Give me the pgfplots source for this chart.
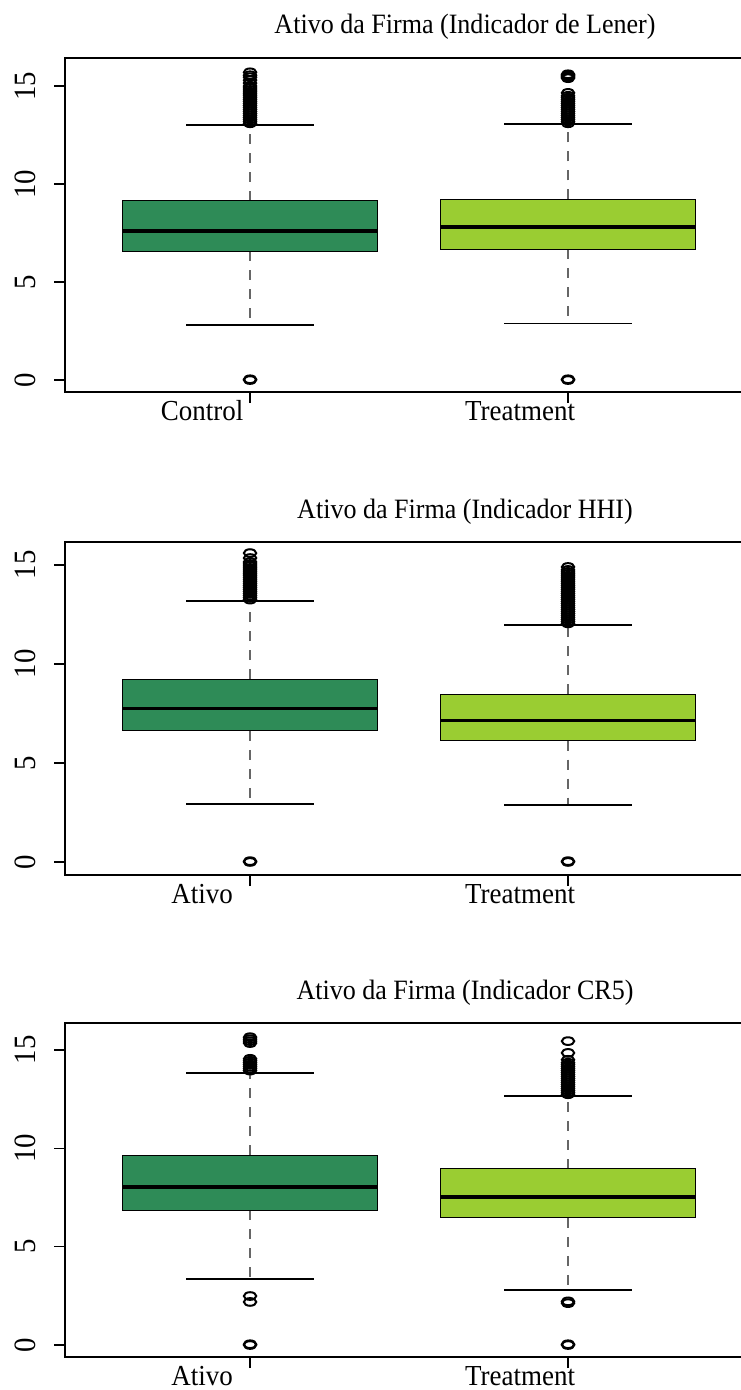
\documentclass[border=0pt]{standalone}
\usepackage{fontspec}
\setmainfont{Liberation Serif}[FakeStretch=0.93]
\usepackage{pgfplots}
\pgfplotsset{compat=1.18}
\usepgfplotslibrary{statistics}
\definecolor{cgreen}{HTML}{2E8B57}
\definecolor{tgreen}{HTML}{9ACD32}
\pgfplotsset{
  boxplot/draw direction=y,
  boxplot/draw/lower whisker/.code={%
    \draw[black!60, line width=0.65pt, dash pattern=on 5pt off 4.5pt, fill=none]
      (boxplot box cs:\pgfplotsboxplotvalue{lower quartile},0.5) --
      (boxplot whisker cs:\pgfplotsboxplotvalue{lower whisker},0.5);
    \draw[black, line width=0.6pt, solid, fill=none]
      (boxplot whisker cs:\pgfplotsboxplotvalue{lower whisker},0) --
      (boxplot whisker cs:\pgfplotsboxplotvalue{lower whisker},1);
  },
  boxplot/draw/upper whisker/.code={%
    \draw[black!60, line width=0.65pt, dash pattern=on 5pt off 4.5pt, fill=none]
      (boxplot box cs:\pgfplotsboxplotvalue{upper quartile},0.5) --
      (boxplot whisker cs:\pgfplotsboxplotvalue{upper whisker},0.5);
    \draw[black, line width=0.6pt, solid, fill=none]
      (boxplot whisker cs:\pgfplotsboxplotvalue{upper whisker},0) --
      (boxplot whisker cs:\pgfplotsboxplotvalue{upper whisker},1);
  },
  boxplot/every box/.style={draw=black, line width=0.5pt},
  boxplot/every median/.style={draw=black, line width=1.9pt},
  boxplot/box extend=0.8,
  boxplot/whisker extend=0.4,
  rpanel/.style={
    scale only axis, width=400pt, height=167pt, anchor=south west,
    xmin=0.418, xmax=2.934,
    xtick={1,2}, ytick={0,5,10,15},
    tick pos=left, tick align=outside, major tick length=5.5pt,
    axis line style={line width=0.6pt},
    every tick/.style={black, line width=0.6pt},
    /pgf/number format/assume math mode=true,
    xticklabel style={font=\fontsize{14.5}{16}\selectfont, anchor=base, inner sep=0pt, xshift=-24pt},
    xticklabel shift=8.5pt,
    yticklabel style={font=\fontsize{15.5}{17}\selectfont, rotate=90, anchor=south, inner sep=0pt},
    yticklabel shift=9pt,
    title style={at={(0.5,1)}, anchor=base, yshift=6pt, font=\fontsize{14}{16}\selectfont},
    clip=false,
  },
  outl/.style={mark=o, mark size=3.1pt, mark options={solid, draw=black, fill=none, yscale=0.62, line width=1pt}},
}
\begin{document}
\begin{tikzpicture}
% Panel 1
\begin{axis}[rpanel, at={(32.5pt,-196pt)}, ymin=-0.61, ymax=16.43,
  xticklabels={Control,Treatment}, title={Ativo da Firma (Indicador de Lener)}]
\addplot[boxplot prepared={draw position=1, median=7.62, upper quartile=9.14, lower quartile=6.56, upper whisker=13.01, lower whisker=2.81},
  fill=cgreen, outl] table[row sep=\\, y index=0] {
data\\ 0\\ 0.04\\ 13.1\\ 13.2\\ 13.3\\ 13.4\\ 13.5\\ 13.6\\ 13.7\\ 13.8\\ 13.9\\ 14.0\\ 14.1\\ 14.2\\ 14.3\\ 14.4\\ 14.5\\ 14.6\\ 14.7\\ 14.8\\ 14.9\\ 15.0\\ 15.15\\ 15.3\\ 15.45\\ 15.55\\ 15.7\\
};
\addplot[boxplot prepared={draw position=2, median=7.79, upper quartile=9.22, lower quartile=6.67, upper whisker=13.06, lower whisker=2.89},
  fill=tgreen, outl] table[row sep=\\, y index=0] {
data\\ 0\\ 0.04\\ 13.1\\ 13.2\\ 13.3\\ 13.4\\ 13.5\\ 13.6\\ 13.7\\ 13.8\\ 13.9\\ 14.0\\ 14.1\\ 14.2\\ 14.3\\ 14.4\\ 14.5\\ 14.65\\ 15.4\\ 15.45\\ 15.5\\ 15.55\\ 15.6\\
};
\end{axis}
% Panel 2
\begin{axis}[rpanel, at={(32.5pt,-437.5pt)}, height=166.5pt, ymin=-0.66, ymax=16.16,
  xticklabels={Ativo,Treatment}, title={Ativo da Firma (Indicador HHI)}]
\addplot[boxplot prepared={draw position=1, median=7.75, upper quartile=9.24, lower quartile=6.62, upper whisker=13.18, lower whisker=2.93},
  fill=cgreen, outl] table[row sep=\\, y index=0] {
data\\ 0\\ 0.04\\ 13.25\\ 13.35\\ 13.45\\ 13.55\\ 13.65\\ 13.75\\ 13.85\\ 13.95\\ 14.05\\ 14.15\\ 14.25\\ 14.35\\ 14.45\\ 14.55\\ 14.65\\ 14.75\\ 14.85\\ 14.95\\ 15.05\\ 15.15\\ 15.35\\ 15.6\\
};
\addplot[boxplot prepared={draw position=2, median=7.14, upper quartile=8.48, lower quartile=6.13, upper whisker=11.97, lower whisker=2.88},
  fill=tgreen, outl] table[row sep=\\, y index=0] {
data\\ 0\\ 0.04\\ 12.05\\ 12.15\\ 12.25\\ 12.35\\ 12.45\\ 12.55\\ 12.65\\ 12.75\\ 12.85\\ 12.95\\ 13.05\\ 13.15\\ 13.25\\ 13.35\\ 13.45\\ 13.55\\ 13.65\\ 13.75\\ 13.85\\ 13.95\\ 14.05\\ 14.15\\ 14.25\\ 14.35\\ 14.45\\ 14.55\\ 14.65\\ 14.75\\ 14.9\\
};
\end{axis}
% Panel 3
\begin{axis}[rpanel, at={(32.5pt,-678.5pt)}, ymin=-0.61, ymax=16.37,
  xticklabels={Ativo,Treatment}, title={Ativo da Firma (Indicador CR5)}]
\addplot[boxplot prepared={draw position=1, median=8.03, upper quartile=9.66, lower quartile=6.86, upper whisker=13.83, lower whisker=3.36},
  fill=cgreen, outl] table[row sep=\\, y index=0] {
data\\ 0\\ 0.04\\ 2.19\\ 2.49\\ 13.95\\ 14.05\\ 14.15\\ 14.25\\ 14.35\\ 14.45\\ 14.55\\ 15.35\\ 15.45\\ 15.55\\ 15.65\\
};
\addplot[boxplot prepared={draw position=2, median=7.52, upper quartile=8.95, lower quartile=6.46, upper whisker=12.66, lower whisker=2.80},
  fill=tgreen, outl] table[row sep=\\, y index=0] {
data\\ 0\\ 0.04\\ 2.13\\ 2.22\\ 12.75\\ 12.85\\ 12.95\\ 13.05\\ 13.15\\ 13.25\\ 13.35\\ 13.45\\ 13.55\\ 13.65\\ 13.75\\ 13.85\\ 13.95\\ 14.05\\ 14.15\\ 14.25\\ 14.35\\ 14.5\\ 14.85\\ 15.45\\
};
\end{axis}
\pgfresetboundingbox
\useasboundingbox (0pt,0pt) rectangle (370pt,-695pt);
\end{tikzpicture}
\end{document}
